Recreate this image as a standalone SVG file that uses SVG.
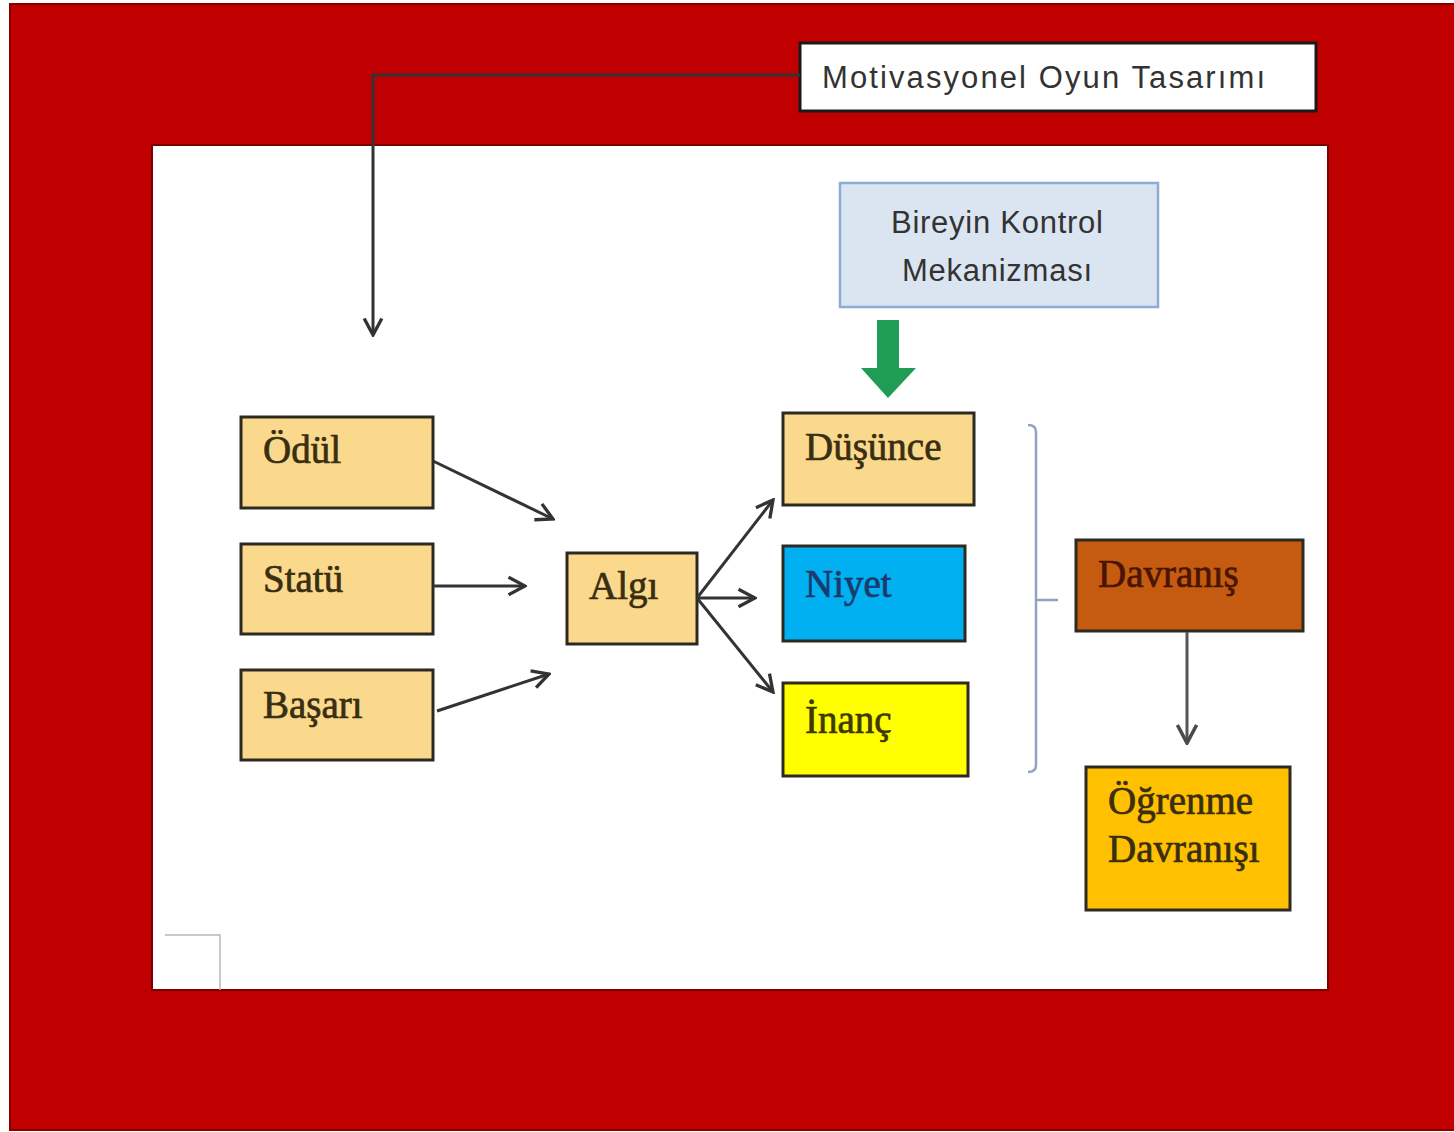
<svg xmlns="http://www.w3.org/2000/svg" width="1454" height="1132" viewBox="0 0 1454 1132">
<style>
.box{stroke:#2e2a22;stroke-width:3}
.st{font-family:"Liberation Serif","Times New Roman",serif;font-size:39px;fill:#3a2e12;stroke:#3a2e12;stroke-width:0.7}
.sa{font-family:"Liberation Sans",Arial,sans-serif;fill:#333}
.conn{stroke:#333;stroke-width:3;fill:none}
</style>
<defs>
<marker id="ah" markerUnits="userSpaceOnUse" viewBox="0 0 20 20" markerWidth="22" markerHeight="22" refX="18" refY="10" orient="auto">
<path d="M3,2 L18,10 L3,18" fill="none" stroke="#333" stroke-width="3"/>
</marker>
<marker id="ahg" markerUnits="userSpaceOnUse" viewBox="0 0 20 20" markerWidth="24" markerHeight="24" refX="18" refY="10" orient="auto">
<path d="M3,2 L18,10 L3,18" fill="none" stroke="#4a4a4a" stroke-width="3"/>
</marker>
</defs>
<rect x="0" y="0" width="1454" height="1132" fill="#ffffff"/>
<g id="frame">
<rect x="10" y="4" width="1446" height="1126" fill="#c00000" stroke="#8a0000" stroke-width="2"/>
<rect x="152" y="145" width="1176" height="845" fill="#ffffff" stroke="#7a0000" stroke-width="2"/>
<path d="M165,935 H220 V990" fill="none" stroke="#b8b8b8" stroke-width="1.5"/>
</g>
<g id="title">
<rect x="800" y="43" width="516" height="68" fill="#ffffff" stroke="#1a1a1a" stroke-width="3"/>
<text class="sa" x="822" y="88" font-size="31" textLength="443" lengthAdjust="spacing">Motivasyonel Oyun Tasarımı</text>
</g>
<g id="kontrol">
<rect x="840" y="183" width="318" height="124" fill="#dbe5f1" stroke="#8eaad6" stroke-width="2.5"/>
<text class="sa" x="997" y="233" font-size="31" text-anchor="middle" textLength="212" lengthAdjust="spacing">Bireyin Kontrol</text>
<text class="sa" x="997" y="281" font-size="31" text-anchor="middle" textLength="190" lengthAdjust="spacing">Mekanizması</text>
</g>
<g id="green-arrow">
<path d="M877,320 H899 V368 H916 L888,398 L861,368 H877 Z" fill="#1f9d55"/>
</g>
<g id="odul">
<rect class="box" x="241" y="417" width="192" height="91" fill="#fad98c"/>
<text class="st" x="263" y="463">Ödül</text>
</g>
<g id="statu">
<rect class="box" x="241" y="544" width="192" height="90" fill="#fad98c"/>
<text class="st" x="263" y="592">Statü</text>
</g>
<g id="basari">
<rect class="box" x="241" y="670" width="192" height="90" fill="#fad98c"/>
<text class="st" x="263" y="718">Başarı</text>
</g>
<g id="algi">
<rect class="box" x="567" y="553" width="130" height="91" fill="#fad98c"/>
<text class="st" x="589" y="599">Algı</text>
</g>
<g id="dusunce">
<rect class="box" x="783" y="413" width="191" height="92" fill="#fad98c"/>
<text class="st" x="805" y="460">Düşünce</text>
</g>
<g id="niyet">
<rect class="box" x="783" y="546" width="182" height="95" fill="#00b0f0"/>
<text class="st" x="805" y="597" style="fill:#1c3a6e;stroke:#1c3a6e">Niyet</text>
</g>
<g id="inanc">
<rect class="box" x="783" y="683" width="185" height="93" fill="#ffff00"/>
<text class="st" x="805" y="733" style="fill:#3d3a00;stroke:#3d3a00">İnanç</text>
</g>
<g id="davranis">
<rect class="box" x="1076" y="540" width="227" height="91" fill="#c55a11"/>
<text class="st" x="1098" y="587" style="fill:#4a1500;stroke:#4a1500">Davranış</text>
</g>
<g id="ogrenme">
<rect class="box" x="1086" y="767" width="204" height="143" fill="#ffc000"/>
<text class="st" x="1108" y="814">Öğrenme</text>
<text class="st" x="1108" y="862">Davranışı</text>
</g>
<g id="bracket">
<path d="M1028,425 Q1036,425 1036,432 V765 Q1036,772 1028,772 M1036,600 H1058" fill="none" stroke="#8fa3c4" stroke-width="2.5"/>
</g>
<g id="connectors">
<path class="conn" d="M800,75 H373 V335" marker-end="url(#ah)"/>
<line class="conn" x1="433" y1="461" x2="553" y2="519" marker-end="url(#ah)"/>
<line class="conn" x1="433" y1="586" x2="525" y2="586" marker-end="url(#ah)"/>
<line class="conn" x1="437" y1="711" x2="549" y2="674" marker-end="url(#ah)"/>
<line class="conn" x1="697" y1="598" x2="773" y2="500" marker-end="url(#ah)"/>
<line class="conn" x1="697" y1="598" x2="755" y2="598" marker-end="url(#ah)"/>
<line class="conn" x1="697" y1="598" x2="773" y2="692" marker-end="url(#ah)"/>
<line x1="1187" y1="632" x2="1187" y2="743" stroke="#555" stroke-width="3" marker-end="url(#ahg)"/>
</g>
</svg>
